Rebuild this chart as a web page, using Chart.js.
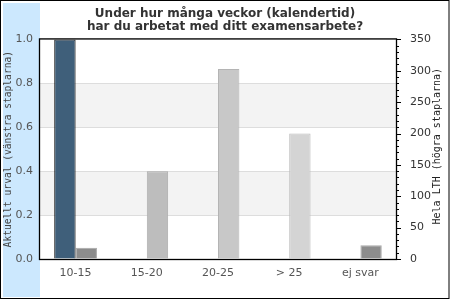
<!DOCTYPE html>
<html>
<head>
<meta charset="utf-8">
<script src="https://cdn.jsdelivr.net/npm/chart.js@4.4.1/dist/chart.umd.min.js"></script>
<style>
  body { margin: 0; background: #fff; }
  canvas { display: block; }
</style>
</head>
<body>
<canvas id="myChart" width="450" height="300"></canvas>
<script>
// data
var kategorier = ['10-15', '15-20', '20-25', '> 25', 'ej svar'];
var urval = [1.0, null, null, null, null];      // vänster axel
var helaLTH = [18, 140, 303, 200, 22];          // höger axel

var grafarger = ['#8c8c8c', '#bdbdbd', '#c8c8c8', '#d4d4d4', '#8c8c8c'];
var grakanter = ['#a8a8a8', '#ababab', '#b4b4b4', '#bcbcbc', '#a8a8a8'];

var hogerTitel = 'Hela LTH (högra staplarna)';

var bakgrund = {
  id: 'bakgrund',
  beforeDraw: function (chart) {
    var c = chart.ctx, a = chart.chartArea, y = chart.scales.y;
    c.save();
    c.fillStyle = '#fff';
    c.fillRect(0, 0, chart.width, chart.height);
    c.fillStyle = '#cce8fe';
    c.fillRect(3, 3, 37, 294);
    // grå band
    c.fillStyle = '#f3f3f3';
    [[0.2, 0.4], [0.6, 0.8]].forEach(function (b) {
      var t = y.getPixelForValue(b[1]), u = y.getPixelForValue(b[0]);
      c.fillRect(a.left, t, a.right - a.left, u - t);
    });
    c.restore();
  },
  afterDraw: function (chart) {
    var c = chart.ctx, a = chart.chartArea, y2 = chart.scales.y2;
    c.save();
    c.strokeStyle = '#000';
    c.lineWidth = 1.3;
    c.strokeRect(a.left - 0.5, a.top - 0.5, a.right - a.left + 1, a.bottom - a.top + 1);
    c.lineWidth = 1;
    for (var v = 0; v <= 350; v += 10) {
      var py = Math.round(y2.getPixelForValue(v)) + 0.5;
      var len = v % 50 == 0 ? 5 : 3;
      c.beginPath();
      c.moveTo(a.right, py);
      c.lineTo(a.right + len, py);
      c.stroke();
    }
    c.strokeRect(0.5, 0.5, 448.5, 298);
    // höger axeltitel, läses nerifrån och upp
    c.translate(437, (a.top + a.bottom) / 2 - 3);
    c.rotate(-Math.PI / 2);
    c.fillStyle = '#222';
    c.font = '10px "DejaVu Sans Mono"';
    c.textAlign = 'center';
    c.textBaseline = 'middle';
    c.fillText(hogerTitel, 0, 0);
    c.restore();
  }
};

var ctx = document.getElementById('myChart').getContext('2d');
var myChart = new Chart(ctx, {
  type: 'bar',
  data: {
    labels: kategorier,
    datasets: [{
      data: urval,
      yAxisID: 'y',
      backgroundColor: '#3f5f7a',
      borderColor: '#000',
      borderWidth: 1
    }, {
      data: helaLTH,
      yAxisID: 'y2',
      backgroundColor: grafarger,
      borderColor: grakanter,
      borderWidth: 1
    }]
  },
  options: {
    responsive: false,
    animation: false,
    devicePixelRatio: 1,
    layout: { padding: 0 },
    categoryPercentage: 0.6,
    barPercentage: 1.0,
    plugins: {
      legend: { display: false },
      tooltip: { enabled: false },
      title: {
        display: true,
        text: ['Under hur många veckor (kalendertid)', 'har du arbetat med ditt examensarbete?'],
        color: '#333',
        font: { family: 'DejaVu Sans', size: 12, weight: 'bold', lineHeight: 1.1 },
        padding: { top: 7, bottom: 6 }
      }
    },
    scales: {
      x: {
        grid: { display: false, drawTicks: false },
        border: { display: false },
        ticks: { color: '#555', padding: 8, font: { family: 'DejaVu Sans', size: 11 } },
        afterFit: function (s) { s.height = 41; }
      },
      y: {
        position: 'left',
        min: 0, max: 1,
        grid: { color: '#dddddd', drawTicks: false },
        border: { display: false },
        ticks: {
          stepSize: 0.2, padding: 7, color: '#555',
          font: { family: 'DejaVu Sans', size: 11 },
          callback: function (v) { return v.toFixed(1); }
        },
        title: {
          display: true,
          text: 'Aktuellt urval (vänstra staplarna)',
          color: '#444',
          padding: { top: 3, bottom: 0 },
          font: { family: 'DejaVu Sans Mono', size: 9.6 }
        },
        afterFit: function (s) { s.width = 40; }
      },
      y2: {
        position: 'right',
        min: 0, max: 350,
        grid: { drawOnChartArea: false, drawTicks: false },
        border: { display: false },
        ticks: { stepSize: 50, padding: 14, color: '#333', font: { family: 'DejaVu Sans', size: 11 } },
        afterFit: function (s) { s.width = 54; }
      }
    }
  },
  plugins: [bakgrund]
});
</script>
</body>
</html>
